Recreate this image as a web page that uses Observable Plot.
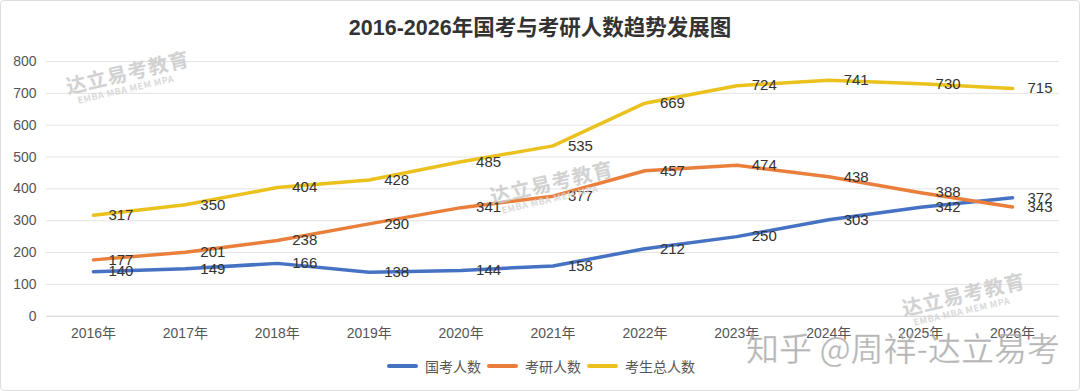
<!DOCTYPE html>
<html>
<head>
<meta charset="utf-8">
<script src="https://cdn.jsdelivr.net/npm/d3@7"></script>
<script src="https://cdn.jsdelivr.net/npm/@observablehq/plot@0.6"></script>
<style>
  html, body { margin: 0; padding: 0; background: #fff; }
  body { font-family: "Liberation Sans", Arial, "Noto Sans CJK SC", sans-serif; }
  #frame { position: relative; width: 1080px; height: 391px; overflow: hidden; box-sizing: border-box; border: 1px solid #dedede; border-radius: 4px; }
  #title { height: 45px; line-height: 54px; text-align: center; font-size: 21.5px; font-weight: bold; color: #333; font-family: "Liberation Sans", Arial, "Noto Sans CJK SC", sans-serif; }
  #chart { position: absolute; left: -1px; top: 44px; }
  #legend { position: absolute; left: 0; top: 355px; width: 1080px; display: flex; justify-content: center; align-items: center; gap: 6px; font-size: 14px; color: #555; font-family: "Noto Sans CJK SC", sans-serif; }
  .li { display: flex; align-items: center; gap: 7px; }
  .sw { width: 31px; height: 4px; border-radius: 2px; }
  .wm { position: absolute; color: #c8c8c8; font-family: "Noto Sans CJK SC", sans-serif; font-weight: bold; white-space: nowrap; transform-origin: left center; opacity: 0.8; }
  .wm .cn { font-size: 20px; letter-spacing: 1px; }
  .wm .en { font-size: 9px; color: #d2d2d2; margin-left: 8px; margin-top: -4px; letter-spacing: 0.5px; }
  #zh { position: absolute; left: 745px; top: 322px; font-size: 33px; color: rgba(150,150,150,0.7); font-family: "Noto Sans CJK SC", sans-serif; white-space: nowrap; -webkit-text-stroke: 0.5px rgba(255,255,255,0.6); }
</style>
</head>
<body>
<div id="frame">
  <div id="title">2016-2026年国考与考研人数趋势发展图</div>
  <div id="chart"></div>
  <div id="legend"></div>
  <div class="wm" style="left:66px;top:70px;transform:rotate(-13deg)"><div class="cn">达立易考教育</div><div class="en">EMBA MBA MEM MPA</div></div>
  <div class="wm" style="left:490px;top:180px;transform:rotate(-13deg)"><div class="cn">达立易考教育</div><div class="en">EMBA MBA MEM MPA</div></div>
  <div class="wm" style="left:902px;top:292px;transform:rotate(-13deg)"><div class="cn">达立易考教育</div><div class="en">EMBA MBA MEM MPA</div></div>
  <div id="zh">知乎 @周祥-达立易考</div>
</div>
<script>
const years = ["2016年","2017年","2018年","2019年","2020年","2021年","2022年","2023年","2024年","2025年","2026年"];
const guokao = [140, 149, 166, 138, 144, 158, 212, 250, 303, 342, 372];
const kaoyan = [177, 201, 238, 290, 341, 377, 457, 474, 438, 388, 343];
const total  = [317, 350, 404, 428, 485, 535, 669, 724, 741, 730, 715];
const seriesNames = ["国考人数", "考研人数", "考生总人数"];
const seriesColors = ["#4672C4", "#E97F3B", "#EBC11E"];
const yTicks = [0, 100, 200, 300, 400, 500, 600, 700, 800];

const seriesValues = [guokao, kaoyan, total];
const rows = [];
seriesNames.forEach((s, si) => {
  years.forEach((y, i) => rows.push({series: s, year: y, value: seriesValues[si][i]}));
});

const plot = Plot.plot({
  width: 1080,
  height: 305,
  marginLeft: 46,
  marginRight: 20,
  marginTop: 16,
  marginBottom: 34,
  style: { fontFamily: "'Liberation Sans', Arial, 'Noto Sans CJK SC', sans-serif", fontSize: "14px", color: "#555", background: "transparent" },
  x: { type: "point", domain: years, padding: 0.5, label: null, tickSize: 0, tickPadding: 12 },
  y: { domain: [0, 800], ticks: yTicks, label: null, tickSize: 0, tickPadding: 10, tickFormat: d => d },
  color: { domain: seriesNames, range: seriesColors },
  marks: [
    Plot.ruleY(yTicks.filter(d => d > 0), { stroke: "#e3e3e3", strokeWidth: 1 }),
    Plot.ruleY([0], { stroke: "#d0d0d0", strokeWidth: 1.2 }),
    Plot.line(rows, { x: "year", y: "value", z: "series", stroke: "series", strokeWidth: 3.5, curve: "linear", strokeLinejoin: "round", strokeLinecap: "round" }),
    Plot.text(rows, { x: "year", y: "value", text: d => String(d.value), textAnchor: "start", dx: 15, fill: "#333", fontSize: 15 }),
    Plot.axisX({ tickSize: 0, tickPadding: 12, fontSize: 14, fill: "#555", label: null, fontFamily: "'Liberation Sans', 'Noto Sans CJK SC', sans-serif" }),
    Plot.axisY({ ticks: yTicks, tickSize: 0, tickPadding: 10, fontSize: 14, fill: "#555", label: null })
  ]
});
document.getElementById("chart").appendChild(plot);

const legend = document.getElementById("legend");
seriesNames.forEach((s, i) => {
  const item = document.createElement("div");
  item.className = "li";
  const sw = document.createElement("div");
  sw.className = "sw";
  sw.style.background = seriesColors[i];
  const t = document.createElement("span");
  t.textContent = s;
  item.appendChild(sw);
  item.appendChild(t);
  legend.appendChild(item);
});
</script>
</body>
</html>
